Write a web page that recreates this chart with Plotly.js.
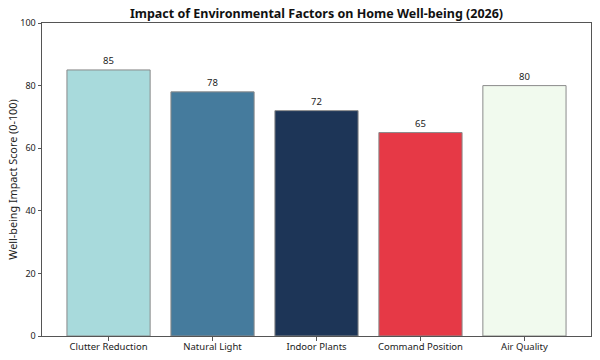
<!DOCTYPE html>
<html><head><meta charset="utf-8">
<script src="https://cdn.plot.ly/plotly-3.0.1.min.js"></script>
<style>body{margin:0;background:#fff}#c{width:600px;height:360px}</style>
</head><body><div id="c"></div>
<script>
const categories = ["Clutter Reduction", "Natural Light", "Indoor Plants", "Command Position", "Air Quality"];
const scores = [85, 78, 72, 65, 80];
const barColors = ["#A8DADC", "#457B9D", "#1D3557", "#E63946", "#F1FAEE"];
const yTicks = [0, 20, 40, 60, 80, 100];

const font = "Noto Sans, Open Sans, DejaVu Sans, sans-serif";
Plotly.newPlot("c", [{
  type: "bar",
  x: categories.map((c, i) => i),
  y: scores,
  width: 0.8,
  marker: {color: barColors, line: {color: "#8a8a8a", width: 1}},
  text: scores.map(String),
  textposition: "outside",
  cliponaxis: false,
  textfont: {family: font, size: 9.5, color: "#222"},
  hoverinfo: "skip"
}], {
  width: 600, height: 360,
  margin: {l: 42, r: 9, t: 23, b: 24},
  paper_bgcolor: "#fff", plot_bgcolor: "#fff",
  showlegend: false,
  title: {text: "<b>Impact of Environmental Factors on Home Well-being (2026)</b>", font: {family: font, size: 12.5, color: "#111"}, xref: "container", x: 0.5275, xanchor: "center", yref: "container", y: 0.963, yanchor: "middle"},
  xaxis: {
    range: [-0.64, 4.64], tickmode: "array", tickvals: categories.map((c, i) => i), ticktext: categories,
    showgrid: false, zeroline: false, showline: true, linecolor: "#555", linewidth: 1, mirror: true,
    ticks: "outside", ticklen: 3.5, tickcolor: "#555", ticklabelstandoff: -2,
    tickfont: {family: font, size: 9.5, color: "#222"}
  },
  yaxis: {
    range: [0, 100], tickmode: "array", tickvals: yTicks, ticktext: yTicks.map(String),
    showgrid: false, zeroline: false, showline: true, linecolor: "#555", linewidth: 1, mirror: true,
    ticks: "outside", ticklen: 3.5, tickcolor: "#555", tickfont: {family: font, size: 9, color: "#222"},
    title: {text: "Well-being Impact Score (0-100)", font: {family: font, size: 10.8, color: "#222"}, standoff: 0}
  }
}, {staticPlot: true, displayModeBar: false});
</script></body></html>
